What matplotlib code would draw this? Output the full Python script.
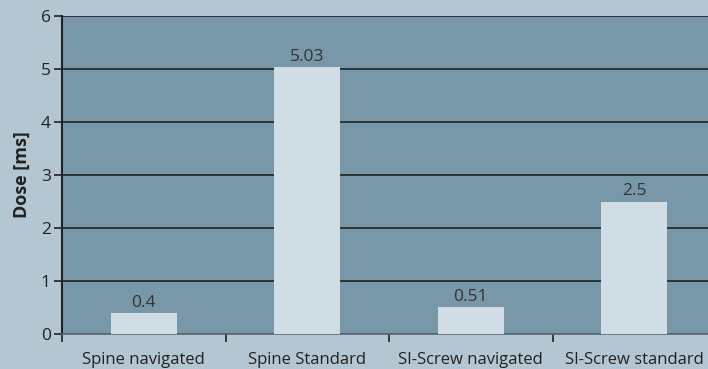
import matplotlib
matplotlib.use("Agg")
import matplotlib.pyplot as plt

categories = ["Spine navigated", "Spine Standard", "SI-Screw navigated", "SI-Screw standard"]
doses = [0.4, 5.03, 0.51, 2.5]
value_labels = ["0.4", "5.03", "0.51", "2.5"]
y_ticks = [0, 1, 2, 3, 4, 5, 6]

plt.rcParams["font.family"] = ["Open Sans", "DejaVu Sans"]

fig = plt.figure(figsize=(7.08, 3.69), dpi=100)
fig.patch.set_facecolor("#b3c6d1")
ax = fig.add_axes([62 / 708, 35 / 369, 654 / 708, 318 / 369])
ax.set_facecolor("#7898a9")

x = list(range(len(categories)))
ax.bar(x, doses, width=0.405, color="#d0dde5", zorder=3)
for xi, v, lab in zip(x, doses, value_labels):
    ax.text(xi, v + 0.04, lab, ha="center", va="bottom", fontsize=12.5, color="#333333", zorder=4)

ax.set_ylim(0, 6)
ax.set_xlim(-0.5, 3.5)
ax.set_yticks(y_ticks)
ax.yaxis.grid(True, color="#222222", linewidth=1.2, zorder=1)
ax.set_axisbelow(True)

ax.set_xticks([-0.5, 0.5, 1.5, 2.5, 3.5])
ax.set_xticklabels([])
ax.set_xticks(x, minor=True)
ax.set_xticklabels(categories, minor=True, fontsize=12, color="#222222")
ax.tick_params(axis="x", which="minor", length=0, pad=13)
ax.tick_params(axis="x", which="major", length=6, width=1.2, color="#222222")
ax.tick_params(axis="y", length=6, width=1.2, color="#222222", labelsize=12.5, labelcolor="#222222", pad=2)

for s in ["top", "right"]:
    ax.spines[s].set_visible(False)
ax.spines["left"].set_color("#222222")
ax.spines["left"].set_linewidth(1.5)
ax.spines["bottom"].set_color("#5a6d78")
ax.spines["bottom"].set_linewidth(1.2)

ax.set_ylabel("Dose [ms]", fontsize=13, fontweight="bold", color="#222222", labelpad=7)

fig.savefig("out.png", dpi=100, facecolor=fig.get_facecolor())
